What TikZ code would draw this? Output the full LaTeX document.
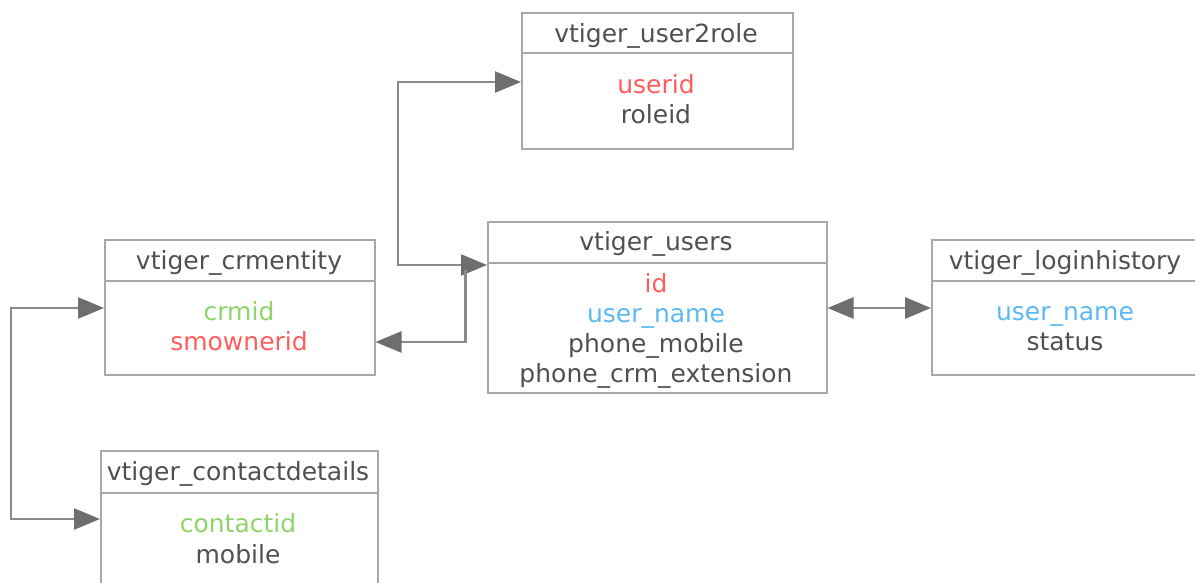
\documentclass[tikz,border=0pt]{standalone}
\usepackage{fontspec}
\setmainfont{DejaVu Sans}
\usetikzlibrary{arrows.meta}
\definecolor{bordergray}{HTML}{A8A8A8}
\definecolor{txt}{HTML}{505050}
\definecolor{kred}{HTML}{FF5C5C}
\definecolor{kblue}{HTML}{5CB8F2}
\definecolor{kgreen}{HTML}{8ED46B}
\definecolor{lineg}{HTML}{8A8A8A}
\definecolor{tipg}{HTML}{6E6E6E}
\begin{document}
\begin{tikzpicture}[x=1pt,y=-1pt,
  tbl/.style={draw=bordergray, line width=1.5pt, anchor=north west, inner sep=0pt},
  sepline/.style={draw=bordergray, line width=1.5pt},
  hdr/.style={text=txt, font=\fontsize{25}{30}\selectfont, inner sep=0pt, anchor=base},
  fld/.style={text=txt, font=\fontsize{25}{30}\selectfont, inner sep=0pt, anchor=base},
  conn/.style={draw=lineg, line width=2.5pt, line join=miter,
    >={Triangle[length=26pt,width=21pt,color=tipg,fill=tipg]}},
]
\useasboundingbox (0,0) rectangle (1195,582);
\clip (0,0) rectangle (1195,582);

% tables
\node[tbl, minimum width=271pt, minimum height=136pt] (u2r) at (521,12) {};
\node[tbl, minimum width=339pt, minimum height=171pt] (users) at (487,221) {};
\node[tbl, minimum width=270pt, minimum height=135pt] (crm) at (104,239) {};
\node[tbl, minimum width=300pt, minimum height=135pt] (lh) at (931,239) {};
\node[tbl, minimum width=277pt, minimum height=200pt] (cd) at (100,450) {};

% header separators
\draw[sepline] (u2r.west |- 0,53) -- (u2r.east |- 0,53);
\draw[sepline] (users.west |- 0,263) -- (users.east |- 0,263);
\draw[sepline] (crm.west |- 0,281) -- (crm.east |- 0,281);
\draw[sepline] (lh.west |- 0,281) -- (lh.east |- 0,281);
\draw[sepline] (cd.west |- 0,493) -- (cd.east |- 0,493);

% headers
\node[hdr] (u2rh) at (656,42) {vtiger\_user2role};
\node[hdr] (usersh) at (656,250) {vtiger\_users};
\node[hdr] (crmh) at (239,269) {vtiger\_crmentity};
\node[hdr] (lhh) at (1065,269) {vtiger\_loginhistory};
\node[hdr] (cdh) at (238,480) {vtiger\_contactdetails};

% fields
\node[fld, text=kred] (f1) at (656,93) {userid};
\node[fld] (f2) at (656,123) {roleid};
\node[fld, text=kred] (f3) at (656,292) {id};
\node[fld, text=kblue] (f4) at (656,322) {user\_name};
\node[fld] (f5) at (656,352) {phone\_mobile};
\node[fld] (f6) at (656,382) {phone\_crm\_extension};
\node[fld, text=kgreen] (f7) at (239,320) {crmid};
\node[fld, text=kred] (f8) at (239,350) {smownerid};
\node[fld, text=kblue] (f9) at (1065,320) {user\_name};
\node[fld] (f10) at (1065,350) {status};
\node[fld, text=kgreen] (f11) at (238,532) {contactid};
\node[fld] (f12) at (238,563) {mobile};

% connectors
\draw[conn,<->] (users.west |- 0,265) -- ++(-89,0) |- (u2r.west |- 0,82);
\draw[conn,<-] (crm.east |- 0,342) -- ++(90,0) -- ++(0,-72);
\draw[conn,<->] (users.east |- 0,308) -- (lh.west |- 0,308);
\draw[conn,<->] (crm.west |- 0,308) -- ++(-93,0) |- (cd.west |- 0,519);
\end{tikzpicture}
\end{document}
